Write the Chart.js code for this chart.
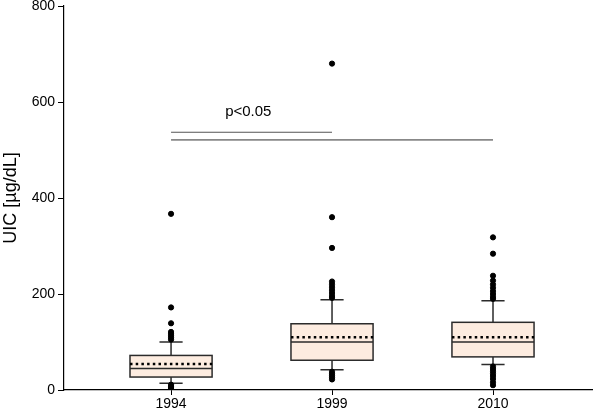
<!DOCTYPE html>
<html>
<head>
<meta charset="utf-8">
<script src="https://cdn.jsdelivr.net/npm/chart.js@4.4.1/dist/chart.umd.min.js"></script>
<style>
  html, body { margin: 0; padding: 0; background: #fff; }
</style>
</head>
<body>
<canvas id="uic-box" width="600" height="414"></canvas>
<script>
const years = ['1994', '1999', '2010'];
const whiskerLow = [14, 42, 53];
const q1 = [27, 62, 69];
const median = [45, 100, 100];
const mean = [54, 110, 110];
const q3 = [72, 138, 141];
const whiskerHigh = [100, 188, 186];
const outliers1994 = [367, 172, 139, 121, 117, 113, 109, 105, 11, 8, 6, 4, 2];
const outliers1999 = [680, 360, 296, 226, 220, 214, 208, 202, 196, 192, 38, 34, 30, 26, 22];
const outliers2010 = [318, 284, 238, 228, 220, 213, 206, 200, 194, 190, 49, 44, 39, 34, 29, 23, 16, 10];
const yTicks = [0, 200, 400, 600, 800];

// significance bars: from group, to group, level
const sigFrom = [0, 0];
const sigTo = [1, 2];
const sigLevel = [537, 521];
const sigText = 'p<0.05';

const font = "'Liberation Sans', Arial, sans-serif";

let points = [];
[outliers1994, outliers1999, outliers2010].forEach((arr, i) => {
  arr.forEach(v => points.push({x: i, y: v}));
});

const boxPlugin = {
  id: 'boxes',
  beforeDatasetsDraw(chart) {
    const c = chart.ctx;
    const xs = chart.scales.x, ys = chart.scales.y;
    const half = 0.255, cap = 0.072;
    c.save();
    for (let i = 0; i < years.length; i++) {
      const l = xs.getPixelForValue(i - half), r = xs.getPixelForValue(i + half);
      const cx = xs.getPixelForValue(i);
      const cl = xs.getPixelForValue(i - cap), cr = xs.getPixelForValue(i + cap);
      const top = ys.getPixelForValue(q3[i]), bot = ys.getPixelForValue(q1[i]);
      const hi = ys.getPixelForValue(whiskerHigh[i]), lo = ys.getPixelForValue(whiskerLow[i]);
      c.strokeStyle = '#2b2b2b';
      c.lineWidth = 1.5;
      // whiskers
      c.beginPath();
      c.moveTo(cx, top); c.lineTo(cx, hi);
      c.moveTo(cl, hi); c.lineTo(cr, hi);
      c.moveTo(cx, bot); c.lineTo(cx, lo);
      c.moveTo(cl, lo); c.lineTo(cr, lo);
      c.stroke();
      // box
      c.fillStyle = '#fdece0';
      c.fillRect(l, top, r - l, bot - top);
      c.strokeRect(l, top, r - l, bot - top);
      // median
      c.beginPath();
      c.moveTo(l, ys.getPixelForValue(median[i]));
      c.lineTo(r, ys.getPixelForValue(median[i]));
      c.stroke();
      // mean, dotted
      c.save();
      c.strokeStyle = '#000';
      c.lineWidth = 2.5;
      c.setLineDash([2.5, 3.2]);
      c.beginPath();
      c.moveTo(l, ys.getPixelForValue(mean[i]));
      c.lineTo(r, ys.getPixelForValue(mean[i]));
      c.stroke();
      c.restore();
    }
    // significance lines
    c.strokeStyle = '#555';
    c.lineWidth = 1.2;
    c.beginPath();
    c.moveTo(xs.getPixelForValue(sigFrom[0]), ys.getPixelForValue(sigLevel[0]));
    c.lineTo(xs.getPixelForValue(sigTo[0]), ys.getPixelForValue(sigLevel[0]));
    c.stroke();
    c.strokeStyle = '#888';
    c.lineWidth = 1.8;
    c.beginPath();
    c.moveTo(xs.getPixelForValue(sigFrom[1]), ys.getPixelForValue(sigLevel[1]));
    c.lineTo(xs.getPixelForValue(sigTo[1]), ys.getPixelForValue(sigLevel[1]));
    c.stroke();
    c.fillStyle = '#000';
    c.font = '15px ' + font;
    c.textAlign = 'center';
    c.textBaseline = 'middle';
    c.fillText(sigText, xs.getPixelForValue(0.48), ys.getPixelForValue(579));
    c.restore();
  }
};

new Chart(document.getElementById('uic-box'), {
  type: 'scatter',
  data: {
    datasets: [{
      label: 'outliers',
      data: points,
      backgroundColor: '#000',
      borderColor: '#000',
      pointRadius: 2.6,
      pointHoverRadius: 2.6
    }]
  },
  plugins: [boxPlugin],
  options: {
    responsive: false,
    animation: false,
    layout: { padding: { top: 6, right: 8, left: 0, bottom: 0 } },
    plugins: { legend: { display: false }, tooltip: { enabled: false } },
    scales: {
      x: {
        type: 'linear',
        min: -0.665,
        max: 2.615,
        afterBuildTicks: (s) => { s.ticks = years.map((y, i) => ({value: i})); },
        afterFit: (s) => { s.height = 24; },
        ticks: {
          color: '#000',
          font: { family: font, size: 14 },
          padding: 1,
          callback: (v) => years[v]
        },
        grid: { drawOnChartArea: false, drawTicks: true, tickLength: 5, color: '#000' },
        border: { color: '#000', width: 1.2 }
      },
      y: {
        min: 0,
        max: 800,
        afterBuildTicks: (s) => { s.ticks = yTicks.map(v => ({value: v})); },
        afterFit: (s) => { s.width = 64; s.paddingTop = 0; s.paddingBottom = 0; },
        ticks: {
          color: '#000',
          font: { family: font, size: 14 },
          padding: 3
        },
        title: {
          display: true,
          text: 'UIC [µg/dL]',
          color: '#000',
          font: { family: font, size: 18 },
          padding: { top: 0, bottom: 0 }
        },
        grid: { drawOnChartArea: false, drawTicks: true, tickLength: 6, color: '#000' },
        border: { color: '#000', width: 1.2 }
      }
    }
  }
});
</script>
</body>
</html>
